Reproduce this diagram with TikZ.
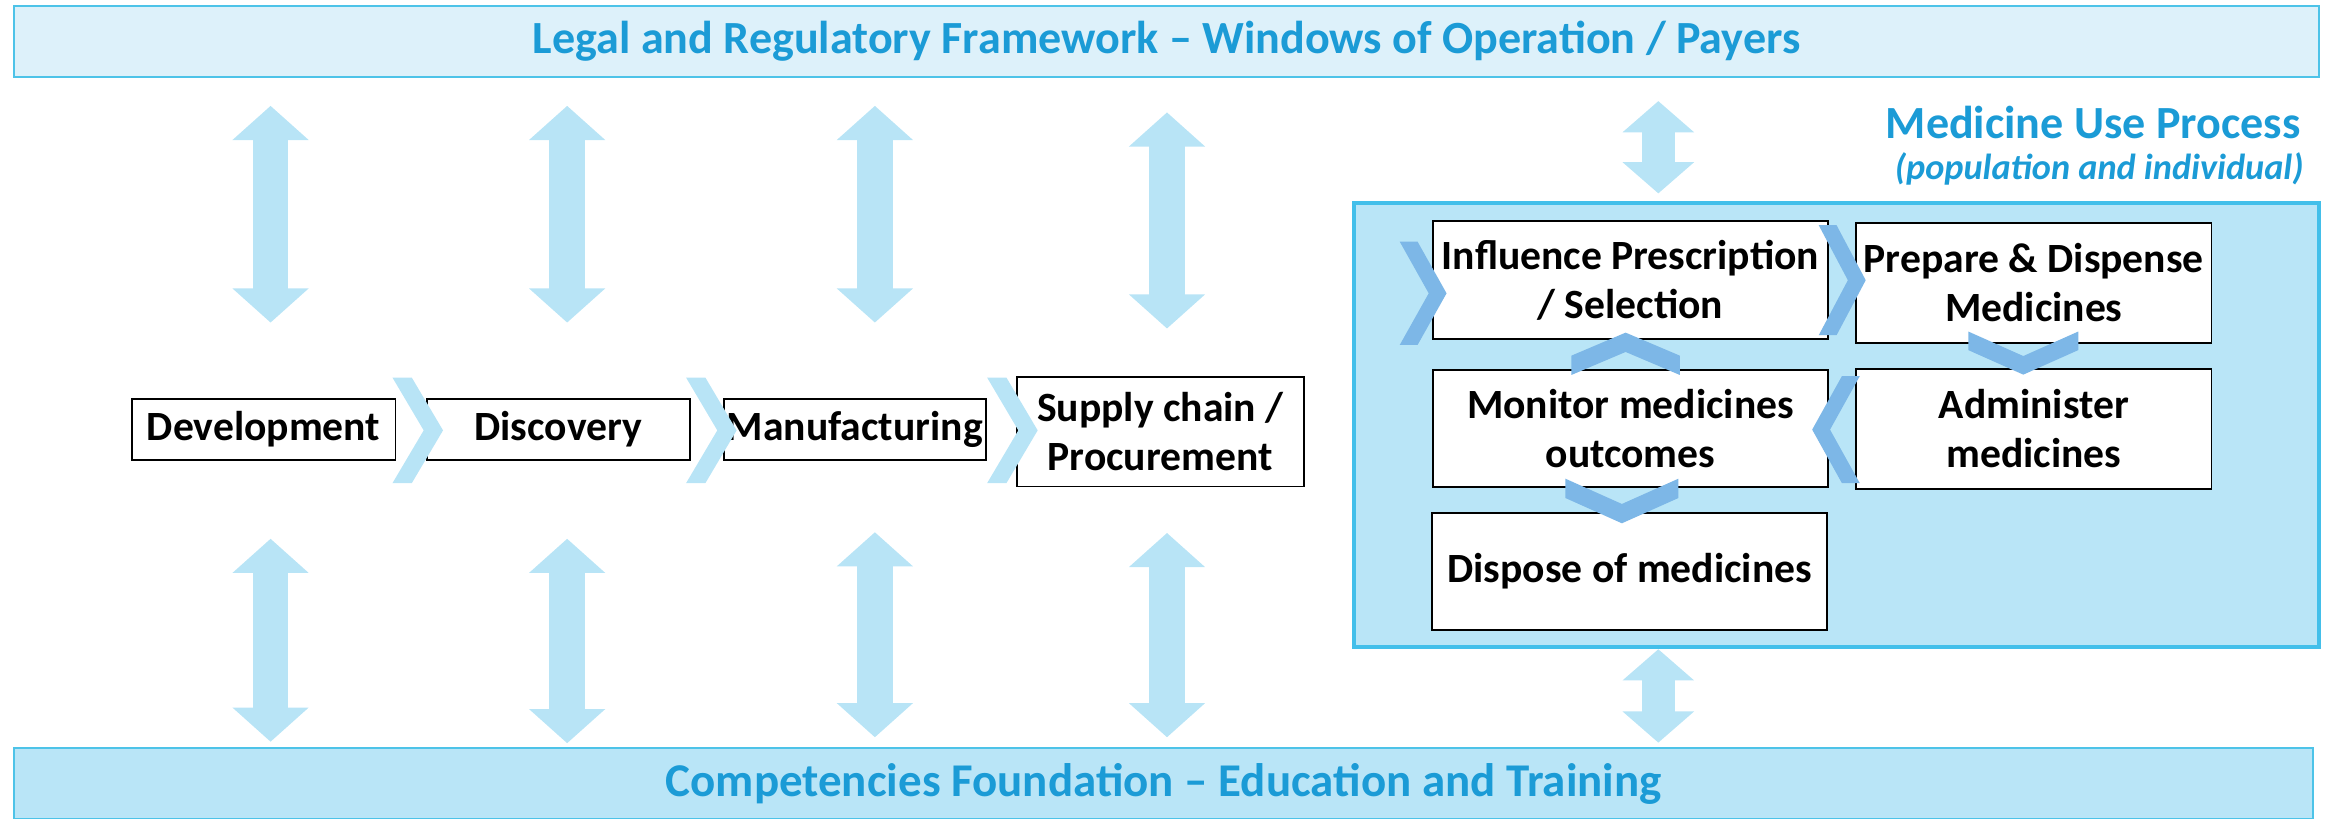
\documentclass[tikz,border=0pt]{standalone}
\usepackage{fontspec}
\setmainfont{Carlito}
\usetikzlibrary{arrows.meta}
\definecolor{titleblue}{RGB}{27,155,214}
\definecolor{barline}{RGB}{77,195,232}
\definecolor{boxline}{RGB}{67,191,234}
\definecolor{barpale}{RGB}{221,241,250}
\definecolor{barfill}{RGB}{185,229,247}
\definecolor{arrowblue}{RGB}{184,228,246}
\definecolor{chevblue}{RGB}{125,183,231}
% colour, centre, angle, width, height, thickness
\newcommand{\flowchev}[6]{\fill[#1,shift={(#2)},rotate=#3] ({-#4/2},{-#5/2}) -- ({-#4/2+#6},{-#5/2}) -- ({#4/2},0) -- ({-#4/2+#6},{#5/2}) -- ({-#4/2},{#5/2}) -- ({#4/2-#6},0) -- cycle;}

\begin{document}
\begin{tikzpicture}[x=0.5pt,y=-0.5pt,
        stage/.style={draw=black,line width=0.6pt,fill=white,inner sep=0.5pt,outer sep=0pt,align=center,font=\fontsize{14}{16.5}\selectfont\bfseries},
        framebar/.style={draw=barline,line width=0.8pt,inner sep=0pt,outer sep=0pt,text=titleblue,font=\fontsize{15.5}{18}\selectfont\bfseries},
        updown/.style={draw=arrowblue,line width=12pt,{Triangle[length=11.5pt,width=25pt]}-{Triangle[length=11.5pt,width=25pt]}},
        updownsmall/.style={draw=arrowblue,line width=11pt,{Triangle[length=10.5pt,width=23.5pt]}-{Triangle[length=10.5pt,width=23.5pt]}}]
            \useasboundingbox (0,0) rectangle (1568,550.9);
            \node[framebar,fill=barpale,minimum width=775.2pt,minimum height=23.8pt] (legal) at (784.8,27.8) {Legal and Regulatory Framework – Windows of Operation / Payers};
            \node[framebar,fill=barfill,minimum width=773.2pt,minimum height=23.85pt,font=\fontsize{15.8}{18}\selectfont\bfseries] (found) at (782.8,527.2) {Competencies Foundation – Education and Training};
            \node[draw=boxline,fill=barfill,line width=1.35pt,outer sep=0pt,minimum width=324.5pt,minimum height=149.1pt] (medbox) at (1235.5,285.8) {};
            \node[text=titleblue,font=\fontsize{15.5}{18}\selectfont\bfseries,anchor=base east,inner sep=0pt] (mutitle) at (1548,93) {Medicine Use Process};
            \node[text=titleblue,font=\fontsize{12.2}{15}\selectfont\bfseries\itshape,anchor=base east,inner sep=0pt] (musub) at (1550,121) {(population and individual)};
            \node[stage,minimum width=88.65pt,minimum height=20.4pt] (dev) at (177.35,289) {Development};
            \node[stage,minimum width=88.5pt,minimum height=20.4pt] (disc) at (375.5,289) {Discovery};
            \node[stage,minimum width=88pt,minimum height=20.4pt] (manu) at (575,289) {Manufacturing};
            \node[stage,minimum width=96.5pt,minimum height=36.85pt] (supp) at (780.5,290.45) {Supply chain /\\Procurement};
            \node[stage,minimum width=132.95pt,minimum height=39.8pt] (infl) at (1096.75,188.4) {Influence Prescription\\/ Selection};
            \node[stage,minimum width=119.5pt,minimum height=40.55pt] (prep) at (1368.1,190.35) {Prepare \& Dispense\\Medicines};
            \node[stage,minimum width=132.95pt,minimum height=39.45pt] (moni) at (1096.75,288.25) {Monitor medicines\\outcomes};
            \node[stage,minimum width=119.5pt,minimum height=40.5pt] (admi) at (1368.1,288.5) {Administer\\medicines};
            \node[stage,minimum width=132.75pt,minimum height=39.25pt] (disp) at (1096.25,384.45) {Dispose of medicines};
            \coordinate (c1) at (182,0);
            \coordinate (c2) at (381.5,0);
            \coordinate (c3) at (588.5,0);
            \coordinate (c4) at (785,0);
            \coordinate (c5) at (1115.5,0);
            \draw[updown,shorten <=9.8pt,shorten >=25.8pt] (legal.south -| c1) -- (dev.north -| c1);
            \draw[updown,shorten <=9.8pt,shorten >=25.8pt] (legal.south -| c2) -- (disc.north -| c2);
            \draw[updown,shorten <=9.8pt,shorten >=25.8pt] (legal.south -| c3) -- (manu.north -| c3);
            \draw[updown,shorten <=12pt,shorten >=16.3pt] (legal.south -| c4) -- (supp.north -| c4);
            \draw[updown,shorten <=26.5pt,shorten >=2.2pt] (dev.south -| c1) -- (found.north -| c1);
            \draw[updown,shorten <=26.5pt,shorten >=1.7pt] (disc.south -| c2) -- (found.north -| c2);
            \draw[updown,shorten <=24.3pt,shorten >=3.7pt] (manu.south -| c3) -- (found.north -| c3);
            \draw[updown,shorten <=15.6pt,shorten >=3.7pt] (supp.south -| c4) -- (found.north -| c4);
            \draw[updownsmall,shorten <=8.2pt,shorten >=3.3pt] (legal.south -| c5) -- (medbox.north -| c5);
            \draw[updownsmall,shorten <=0.9pt,shorten >=1.9pt] (medbox.south -| c5) -- (found.north -| c5);
            \flowchev{arrowblue}{281,289.5}{0}{34}{71}{13}
            \flowchev{arrowblue}{478.5,289.5}{0}{34}{71}{13}
            \flowchev{arrowblue}{681,289.5}{0}{34}{71}{13}
            \flowchev{chevblue}{957.3,197.3}{0}{31.5}{69.5}{12}
            \flowchev{chevblue}{1239.2,188.5}{0}{31.6}{74}{12}
            \flowchev{chevblue}{1361,237.5}{-90}{29}{74}{12.5}
            \flowchev{chevblue}{1235,289}{180}{32}{72}{12}
            \flowchev{chevblue}{1093.5,238}{90}{28.5}{73}{13}
            \flowchev{chevblue}{1091,337}{-90}{30}{76}{13}
        \end{tikzpicture}
\end{document}
